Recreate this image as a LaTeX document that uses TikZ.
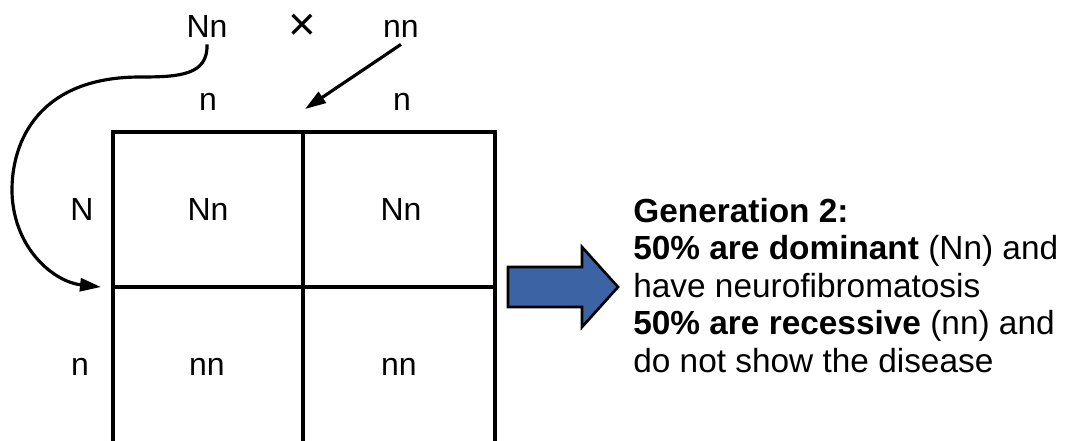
\documentclass[tikz,border=0pt]{standalone}
\usepackage{fontspec}
\setmainfont{Liberation Sans}
\usetikzlibrary{arrows.meta,calc}
\definecolor{arrowblue}{RGB}{60,100,165}
\tikzset{
  allele/.style={font=\fontsize{18.2pt}{20pt}\selectfont, inner sep=0pt, anchor=base},
  parent/.style={allele, inner sep=4pt},
  gridline/.style={line width=2.2pt, line cap=rect},
  cross arrow/.style={-{Triangle[length=0.42cm, width=0.26cm]}, line width=1.8pt},
  block arrow/.style={draw=black, line width=1.5pt, fill=arrowblue, line join=miter},
  result/.style={font=\fontsize{19pt}{21.3pt}\selectfont, align=left, inner sep=0pt, anchor=north west},
}

\begin{document}
\begin{tikzpicture}[x=0.02cm, y=-0.02cm]
  \useasboundingbox (0,0) rectangle (1065,440);

  % Punnett square (bottom edge runs off the picture)
  \begin{scope}
    \clip (0,0) rectangle (1065,440);
    \coordinate (sqNW) at (113,132);
    \coordinate (sqNE) at (495,132);
    \coordinate (sqMid) at (303,287);
    \draw[gridline] (113,450) |- (sqNE) -- (495,450);
    \draw[gridline] (303,132) -- (303,450);
    \draw[gridline] (113,287) -- (495,287);
  \end{scope}

  % Parents
  \node[parent] (father) at (207,37) {Nn};
  \node[allele, anchor=center, font=\fontsize{27pt}{28pt}\selectfont] (cross) at (302,27) {×};
  \node[parent] (mother) at (401,37) {nn};

  % Gametes
  \node[allele] (colA) at (208,110) {n};
  \node[allele] (colB) at (402,110) {n};
  \node[allele] (rowA) at (82,220) {N};
  \node[allele] (rowB) at (80,375) {n};

  % Offspring
  \node[allele] (cellNW) at (208,220) {Nn};
  \node[allele] (cellNE) at (401,220) {Nn};
  \node[allele] (cellSW) at (207,375) {nn};
  \node[allele] (cellSE) at (399,375) {nn};

  % Arrows from parents
  \coordinate (rowTip) at (101,287);
  \coordinate (colTip) at (305,109);
  \draw[cross arrow] (father.south) .. controls (208,75) and (180,77) .. (140,77)
    .. controls (40,77) and (11,140) .. (12,193)
    .. controls (14,250) and (55,282) .. (rowTip);
  \draw[cross arrow] (mother.south) -- (colTip);

  % Result
  \draw[block arrow] (508,267) -- (582,267) -- (582,247) -- (618,287)
    -- (582,327) -- (582,307) -- (508,307) -- cycle;
  \node[result] (gen2) at (633,198) {\textbf{Generation 2:}\\
    \textbf{50\% are dominant} (Nn) and\\
    have neurofibromatosis\\
    \textbf{50\% are recessive} (nn) and\\
    do not show the disease};
\end{tikzpicture}
\end{document}
